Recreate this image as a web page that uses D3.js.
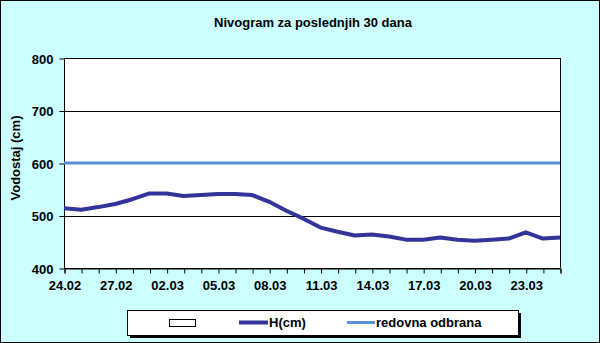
<!DOCTYPE html>
<html>
<head>
    <style type="text/css">
        body { margin: 0; background: #fff; }
        text { font-family: "Liberation Sans", Arial, sans-serif; font-weight: bold; font-size: 13px; fill: #000; }
    </style>
</head>
<body>
    <div id="canvas"></div>
    <script type="text/javascript" src="https://cdnjs.cloudflare.com/ajax/libs/d3/7.8.5/d3.min.js"></script>
    <script type="text/javascript">
        // dates of the last 30 days
        var days = ["24.02", "25.02", "26.02", "27.02", "28.02", "01.03", "02.03", "03.03", "04.03", "05.03",
            "06.03", "07.03", "08.03", "09.03", "10.03", "11.03", "12.03", "13.03", "14.03", "15.03",
            "16.03", "17.03", "18.03", "19.03", "20.03", "21.03", "22.03", "23.03", "24.03", "25.03"];
        // water level H(cm)
        var levels = [514, 511, 516, 522, 531, 542, 542, 537, 539, 541,
            541, 539, 526, 509, 494, 477, 469, 462, 464, 460,
            454, 454, 458, 454, 452, 454, 456, 468, 456, 458];
        var defenceLevel = 600; // redovna odbrana
        var yTicks = [400, 500, 600, 700, 800];
        var labelDays = ["24.02", "27.02", "02.03", "05.03", "08.03", "11.03", "14.03", "17.03", "20.03", "23.03"];

        (function () {
            var W = 600, H = 343;
            var pLeft = 64, pRight = 560, pTop = 58, pBottom = 268;

            var svg = d3.select('#canvas').append('svg')
                .attr('width', W).attr('height', H);

            svg.append('rect').attr('x', 0.5).attr('y', 0.5).attr('width', W - 1).attr('height', H - 1)
                .attr('fill', '#ccffff').attr('stroke', '#000');

            var x = d3.scalePoint().domain(days).range([pLeft, pRight]);
            var y = d3.scaleLinear().domain([400, 800]).range([pBottom, pTop]);

            // plot area
            svg.append('rect').attr('x', pLeft).attr('y', pTop).attr('width', pRight - pLeft).attr('height', pBottom - pTop)
                .attr('fill', '#fff');

            // gridlines
            svg.append('g').selectAll('line').data(yTicks).enter().append('line')
                .attr('x1', pLeft).attr('x2', pRight)
                .attr('y1', function (d) { return Math.round(y(d)) + 0.5; })
                .attr('y2', function (d) { return Math.round(y(d)) + 0.5; })
                .attr('stroke', '#000');

            svg.append('line').attr('x1', pRight + 0.5).attr('x2', pRight + 0.5).attr('y1', pTop).attr('y2', pBottom)
                .attr('stroke', '#000');

            // axes
            var yAxis = svg.append('g').attr('transform', 'translate(' + (pLeft + 0.5) + ',0.5)')
                .call(d3.axisLeft(y).tickValues(yTicks).tickSize(5).tickPadding(6));
            var xAxis = svg.append('g').attr('transform', 'translate(0.5,' + (pBottom + 0.5) + ')')
                .call(d3.axisBottom(x).tickSize(5).tickPadding(7)
                    .tickFormat(function (d) { return labelDays.indexOf(d) >= 0 ? d : ''; }));
            svg.selectAll('.domain').attr('stroke', '#000');
            svg.selectAll('.tick line').attr('stroke', '#000');
            svg.selectAll('.tick text').attr('font-family', null).attr('font-size', null)
                .style('font-size', '13px').style('font-weight', 'bold');
            yAxis.select('.domain').attr('d', 'M0,' + pTop + 'V' + pBottom);
            yAxis.selectAll('.tick text').attr('dy', '0.36em');

            // redovna odbrana
            svg.append('line').attr('x1', pLeft).attr('x2', pRight)
                .attr('y1', y(defenceLevel)).attr('y2', y(defenceLevel))
                .attr('stroke', '#5a8fda').attr('stroke-width', 3);

            // H(cm)
            var line = d3.line().x(function (d, i) { return x(days[i]); }).y(function (d) { return y(d); });
            svg.append('path').datum(levels).attr('d', line)
                .attr('fill', 'none').attr('stroke', '#333399').attr('stroke-width', 4)
                .attr('stroke-linejoin', 'round');

            // title
            svg.append('text').attr('x', 313).attr('y', 27).attr('text-anchor', 'middle')
                .text('Nivogram za poslednjih 30 dana');

            svg.append('text').attr('transform', 'translate(20,158) rotate(-90)').attr('text-anchor', 'middle')
                .text('Vodostaj (cm)');

            // legend
            var lg = svg.append('g');
            lg.append('rect').attr('x', 130).attr('y', 313).attr('width', 391).attr('height', 25).attr('fill', '#000');
            lg.append('rect').attr('x', 127.5).attr('y', 310.5).attr('width', 391).attr('height', 25)
                .attr('fill', '#fff').attr('stroke', '#000');
            lg.append('rect').attr('x', 169.5).attr('y', 319.5).attr('width', 26).attr('height', 7)
                .attr('fill', '#fff').attr('stroke', '#000');
            lg.append('line').attr('x1', 239).attr('x2', 268).attr('y1', 322.5).attr('y2', 322.5)
                .attr('stroke', '#333399').attr('stroke-width', 4);
            lg.append('text').attr('x', 269).attr('y', 327).text('H(cm)');
            lg.append('line').attr('x1', 347).attr('x2', 375).attr('y1', 322.5).attr('y2', 322.5)
                .attr('stroke', '#5a8fda').attr('stroke-width', 3);
            lg.append('text').attr('x', 376).attr('y', 327).text('redovna odbrana');
        })();
    </script>
</body>
</html>
